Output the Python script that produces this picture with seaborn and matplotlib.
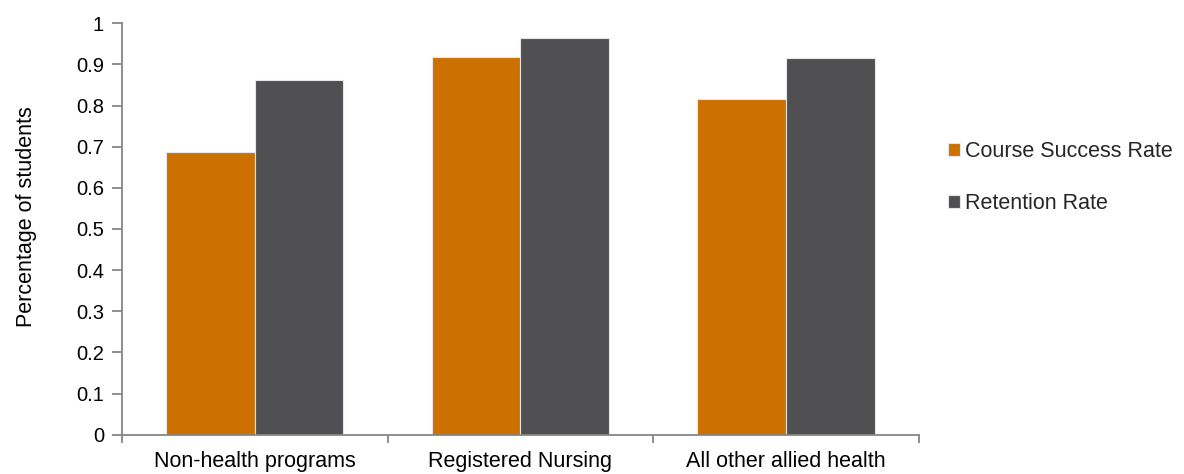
import matplotlib
matplotlib.use("Agg")
import matplotlib.pyplot as plt
import seaborn as sns
import pandas as pd
from matplotlib.ticker import FixedLocator

categories = ["Non-health programs", "Registered Nursing", "All other allied health"]
series_names = ["Course Success Rate", "Retention Rate"]
course_success = [0.688, 0.917, 0.816]
retention = [0.861, 0.963, 0.915]
y_ticks = [0, 0.1, 0.2, 0.3, 0.4, 0.5, 0.6, 0.7, 0.8, 0.9, 1]
y_tick_labels = ["0", "0.1", "0.2", "0.3", "0.4", "0.5", "0.6", "0.7", "0.8", "0.9", "1"]

df = pd.DataFrame({
    "Program": categories * 2,
    "Series": [series_names[0]] * 3 + [series_names[1]] * 3,
    "Rate": course_success + retention,
})

sns.set_theme(style="white")
plt.rcParams["font.family"] = ["Liberation Sans", "DejaVu Sans"]

axis_grey = "#868686"
fig = plt.figure(figsize=(11.84, 4.74), dpi=100)
ax = fig.add_axes([0.103, 0.083, 0.673, 0.868])

sns.barplot(
    data=df, x="Program", y="Rate", hue="Series",
    palette=["#CC7000", "#505052"], saturation=1, width=0.667, gap=0,
    edgecolor="#e6e6e6", linewidth=0.8, ax=ax, legend=True,
)

ax.set_ylim(0, 1)
ax.set_xlim(-0.5, 2.5)
ax.set_yticks(y_ticks)
ax.set_yticklabels(y_tick_labels)
ax.set_xlabel("")
ax.set_ylabel("Percentage of students", fontsize=15.5, color="#000000")
ax.yaxis.set_label_coords(-0.106, 0.53)

for s in ["top", "right"]:
    ax.spines[s].set_visible(False)
for s in ["left", "bottom"]:
    ax.spines[s].set_color(axis_grey)
    ax.spines[s].set_linewidth(1.3)

ax.tick_params(axis="y", which="major", direction="out", length=7, width=1.3,
               color=axis_grey, labelsize=14.5, labelcolor="#000000", pad=6, left=True)
ax.tick_params(axis="x", which="major", length=0, labelsize=15.5, labelcolor="#000000", pad=12)
ax.xaxis.set_minor_locator(FixedLocator([-0.5, 0.5, 1.5, 2.5]))
ax.tick_params(axis="x", which="minor", direction="out", length=6, width=1.3,
               color=axis_grey, bottom=True)

handles, labels = ax.get_legend_handles_labels()
ax.legend(handles, labels, loc="center left", bbox_to_anchor=(1.012, 0.625),
          frameon=False, fontsize=15.5, handlelength=0.55, handleheight=0.55,
          handletextpad=0.25, labelspacing=1.45)

fig.savefig("out.png", dpi=100)
